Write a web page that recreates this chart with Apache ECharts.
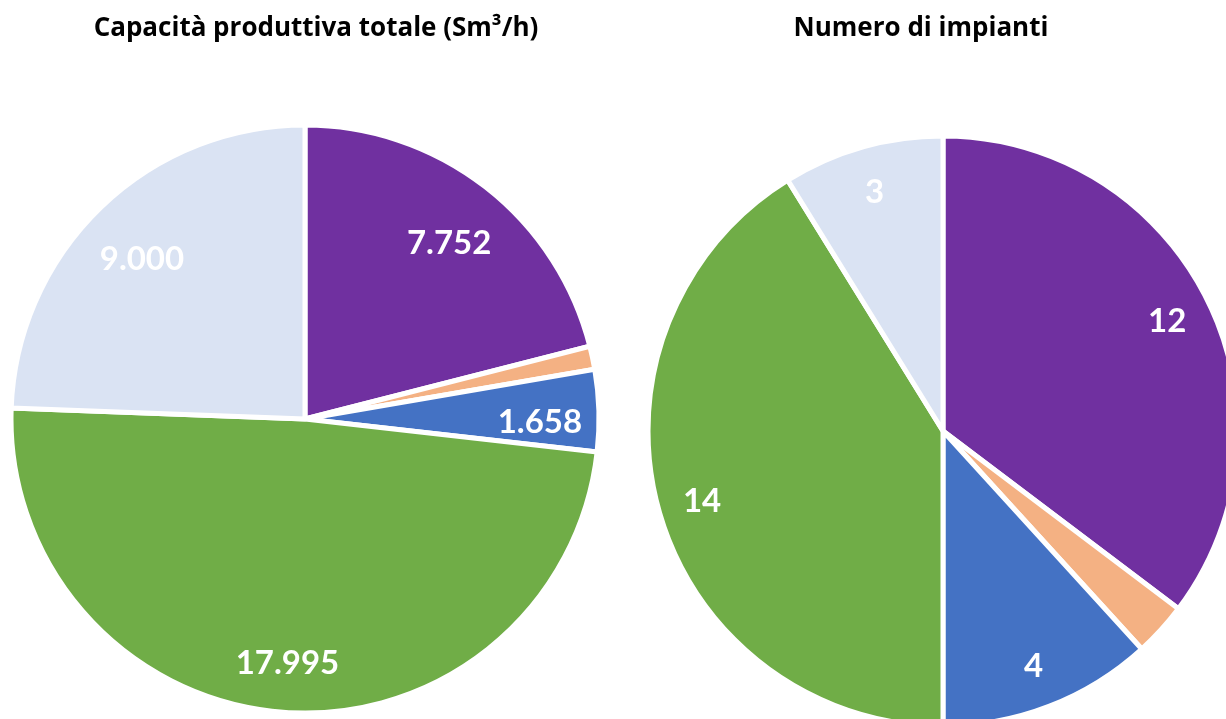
<!DOCTYPE html>
<html><head><meta charset="utf-8">
<script src="https://cdn.jsdelivr.net/npm/echarts@6/dist/echarts.min.js"></script>
<style>html,body{margin:0;padding:0;background:#fff}#c{width:1226px;height:719px}</style>
</head><body><div id="c"></div>
<script>
const categories = ['Cat A', 'Cat B', 'Cat C', 'Cat D', 'Cat E'];
const colors = ['#7030A0', '#F4B183', '#4472C4', '#70AD47', '#DAE3F3'];
const capacityValues = [7752, 470, 1658, 17995, 9000];
const plantValues = [12, 1, 4, 14, 3];
const showLabel = [true, false, true, true, true];
const titles = ['Capacità produttiva totale (Sm³/h)', 'Numero di impianti'];

function fmt(v) { return String(v).replace(/\B(?=(\d{3})+(?!\d))/g, '.'); }
function mk(vals) {
  return vals.map((v, i) => ({ name: categories[i], value: v, itemStyle: { color: colors[i] } }));
}
const LFONT = 'Lato, "Open Sans", sans-serif';
const TFONT = '"Open Sans", Lato, sans-serif';
function pieBase(center, radius, vals) {
  return {
    type: 'pie', center: center, radius: [0, radius], startAngle: 90, clockwise: true,
    silent: true, animation: false,
    data: mk(vals),
    itemStyle: { borderColor: '#fff', borderWidth: 5 },
    label: { show: false }, labelLine: { show: false }
  };
}
function pieLabels(center, r0, r1, vals) {
  return {
    type: 'pie', center: center, radius: [r0, r1], startAngle: 90, clockwise: true,
    silent: true, animation: false,
    data: vals.map((v, i) => ({ name: categories[i], value: v, itemStyle: { color: 'rgba(0,0,0,0)' } })),
    label: {
      show: true, position: 'inside', color: '#fff', fontFamily: LFONT, fontWeight: 'bold', fontSize: 33,
      formatter: p => showLabel[p.dataIndex] ? fmt(p.value) : ''
    },
    labelLine: { show: false }
  };
}
const chart = echarts.init(document.getElementById('c'), null, { renderer: 'canvas' });
chart.setOption({
  backgroundColor: '#fff',
  title: [
    { text: titles[0], left: 311, top: 11, textAlign: 'center', textStyle: { fontFamily: TFONT, fontWeight: 'bold', fontSize: 26, color: '#000' } },
    { text: titles[1], left: 916, top: 11, textAlign: 'center', textStyle: { fontFamily: TFONT, fontWeight: 'bold', fontSize: 26, color: '#000' } }
  ],
  series: [
    pieBase([305, 419], 294, capacityValues),
    pieLabels([305, 429], 170, 294, capacityValues),
    pieBase([943, 431], 295, plantValues),
    pieLabels([943, 433], 200, 295, plantValues)
  ]
});
</script></body></html>
